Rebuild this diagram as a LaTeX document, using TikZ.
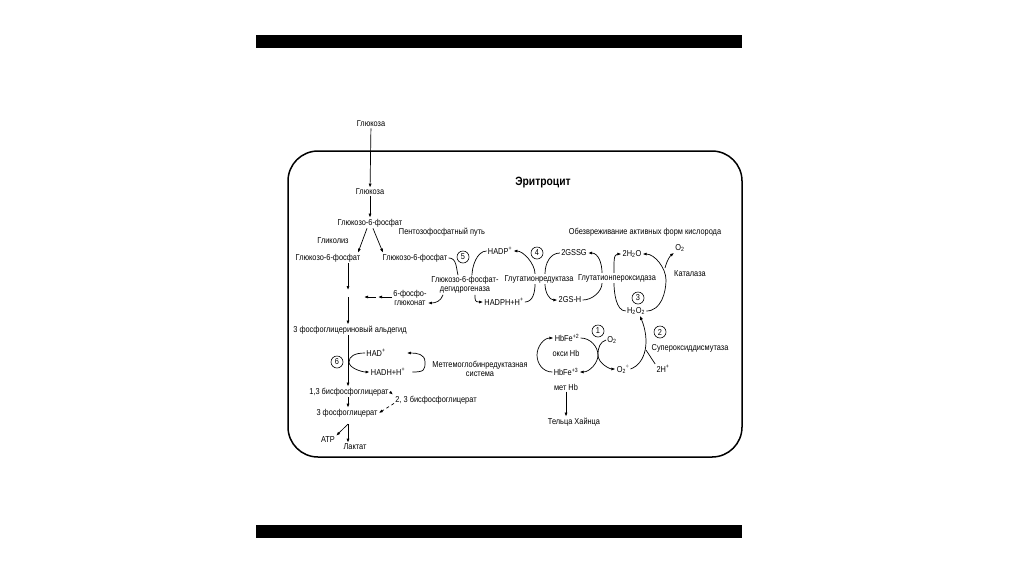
\documentclass[tikz,border=0pt]{standalone}
\usepackage{fontspec}
\setmainfont{Liberation Sans}[FakeStretch=0.86]
\usetikzlibrary{arrows.meta}

\begin{document}
\begin{tikzpicture}[x=1pt,y=-1pt,>={Latex[length=4pt,width=3pt]},line width=0.7pt,
  every node/.style={font=\fontsize{8.6}{10}\selectfont,inner sep=1pt,align=center},
  cnum/.style={circle,draw,line width=0.6pt,inner sep=0pt,minimum size=12pt}]
\useasboundingbox (0,0) rectangle (1024,574);
\fill (256,35) rectangle (742,48);
\fill (256,525) rectangle (742,538);
\draw[line width=1.5pt,rounded corners=30pt] (288,151) rectangle (742,457);
\node[font=\bfseries\fontsize{12}{14}\selectfont] (ery) at (543,183) {Эритроцит};
\node (ros) at (645,232) {Обезвреживание активных форм кислорода};
\node (ppp) at (442,232) {Пентозофосфатный путь};
\node (glc0) at (371,124) {Глюкоза};
\node (glc) at (370,192) {Глюкоза};
\node (g6p) at (370,223) {Глюкозо-6-фосфат};
\node (glyc) at (333,241) {Гликолиз};
\node (g6pl) at (328,258) {Глюкозо-6-фосфат};
\node (g6pr) at (415,258) {Глюкозо-6-фосфат};
\node[cnum] (c5) at (463,257) {5};
\node (g6pd) at (465,285) {Глюкозо-6-фосфат-\\[-1pt]дегидрогеназа};
\node (pgl) at (410,298) {6-фосфо-\\[-1pt]глюконат};
\node (gap) at (350,330) {3 фосфоглицериновый альдегид};
\node (nadp) at (500,251) {HADP\textsuperscript{+}};
\node (nadph) at (504,302) {HADPH+H\textsuperscript{+}};
\node[cnum] (c4) at (537,253) {4};
\node (gr) at (539,279) {Глутатионредуктаза};
\node (gssg) at (574,253) {2GSSG};
\node (gsh) at (570,300) {2GS-H};
\node (gpx) at (617,278) {Глутатионпероксидаза};
\node (h2o) at (632,254) {2H\textsubscript{2}O};
\node (o2c) at (680,248) {O\textsubscript{2}};
\node (cat) at (690,274) {Каталаза};
\node[cnum] (c3) at (638,298) {3};
\node (h2o2) at (636,311) {H\textsubscript{2}O\textsubscript{2}};
\node[cnum] (c2) at (660,332) {2};
\node (sod) at (690,348) {Супероксиддисмутаза};
\node (hp) at (663,369) {2H\textsuperscript{+}};
\node (sup) at (623,369) {O\textsubscript{2}\textsuperscript{÷}};
\node (o2) at (612,340) {O\textsubscript{2}};
\node[cnum] (c1) at (598,331) {1};
\node (hb2) at (567,338) {HbFe\textsuperscript{+2}};
\node (oxy) at (566,353) {окси Hb};
\node (hb3) at (566,372) {HbFe\textsuperscript{+3}};
\node (met) at (566,387) {мет Hb};
\node (heinz) at (574,422) {Тельца Хайнца};
\node[cnum] (c6) at (337,362) {6};
\node (nad) at (376,353) {HAD\textsuperscript{+}};
\node (nadh) at (388,372) {HADH+H\textsuperscript{+}};
\node (mhr) at (480,369) {Метгемоглобинредуктазная\\[-1pt]система};
\node (bpg13) at (349,392) {1,3 бисфосфоглицерат};
\node (bpg23) at (436,400) {2, 3 бисфосфоглицерат};
\node (pg3) at (347,413) {3 фосфоглицерат};
\node (atp) at (328,440) {ATP};
\node (lac) at (355,447) {Лактат};
\coordinate (gl) at (348,294);
\coordinate (pa) at (378,297);
\coordinate (ap) at (348,424);
\coordinate (cc) at (666,280);
\coordinate (cb) at (665,268);
\coordinate (sb) at (646,350);
\coordinate (xc) at (598,355);
\coordinate (hl) at (537,355);
\coordinate (hc) at (349,362);
\coordinate (hr) at (425,362);
\draw[->] (glc0) -- (glc);
\draw[->] (glc) -- (g6p);
\draw[->] ([xshift=-3pt]g6p.south) -- ([xshift=30pt]g6pl.north);
\draw[->] ([xshift=3pt]g6p.south) -- ([xshift=-32pt]g6pr.north);
\draw[->] (g6pl.south -| gl) -- ([yshift=4pt]gl);
\draw[->] ([yshift=-3pt]gl) -- (gap.north -| gl);
\draw[->] (pgl.west |- pa) -- (pa);
\draw[->] ([xshift=-2pt]pa) -- ([xshift=-14pt]pa);
\draw (g6pr.east) .. controls +(8,0) and +(-2,-8) .. ([xshift=-7pt]g6pd.north);
\draw[->] ([xshift=-22pt]g6pd.south) .. controls +(-2,6) and +(8,0) .. ([yshift=-5pt]pgl.east);
\draw (nadp.west) .. controls +(-10,0) and +(0,-8) .. ([xshift=7pt]g6pd.north);
\draw[->] ([xshift=10pt]g6pd.south) .. controls +(0,6) and +(-8,0) .. (nadph.west);
\draw (nadph.east) .. controls +(8,0) and +(0,8) .. ([xshift=-4pt]gr.south);
\draw[->] ([xshift=-4pt]gr.north) .. controls +(0,-10) and +(10,0) .. (nadp.east);
\draw (gssg.west) .. controls +(-10,0) and +(0,-10) .. ([xshift=6pt]gr.north);
\draw[->] ([xshift=6pt]gr.south) .. controls +(0,8) and +(-8,0) .. (gsh.west);
\draw (gsh.east) .. controls +(10,0) and +(0,8) .. ([xshift=-15pt]gpx.south);
\draw[->] ([xshift=-15pt]gpx.north) .. controls +(0,-10) and +(10,0) .. (gssg.east);
\draw (h2o2.west) .. controls +(-10,0) and +(0,8) .. ([xshift=-3pt]gpx.south);
\draw[->] ([xshift=-3pt]gpx.north) .. controls +(0,-10) and +(-8,0) .. (h2o.west);
\draw[->] (h2o2.east) .. controls +(15,0) and +(0,12) .. (cc) .. controls +(0,-12) and +(12,0) .. (h2o.east);
\draw[->] (cb) .. controls +(2,-8) and +(-4,3) .. (o2c.south west);
\draw[->] (sup.east) .. controls +(16,-6) and +(10,24) .. ([xshift=4pt]h2o2.south);
\draw (sb) -- (hp.north west);
\draw[->] (hb2.east) .. controls +(10,0) and +(0,-8) .. (xc) .. controls +(0,8) and +(10,0) .. (hb3.east);
\draw[->] (o2.west) .. controls +(-6,2) and +(0,-8) .. (xc) .. controls +(0,8) and +(-6,0) .. (sup.west);
\draw[->] (hb3.west) .. controls +(-10,0) and +(0,8) .. (hl) .. controls +(0,-8) and +(-10,0) .. (hb2.west);
\draw[->] (met) -- (met |- heinz.north);
\draw[->] (nad.west) .. controls +(-10,0) and +(0,-6) .. (hc) .. controls +(0,6) and +(-8,0) .. (nadh.west);
\draw[->] ([xshift=6pt]nadh.east) .. controls +(12,0) and +(0,8) .. (hr) .. controls +(0,-8) and +(10,0) .. ([xshift=20pt]nad.east);
\draw[->] (gap.south -| gl) -- (bpg13.north -| gl);
\draw[->] (bpg13.south -| gl) -- (pg3.north -| gl);
\draw[->,dashed] (bpg13.east) -- ([xshift=-1pt]bpg23.north west);
\draw[->,dashed] ([yshift=2pt]bpg23.south west) -- (pg3.east);
\draw[->] (ap) -- (atp.north east);
\draw[->] (ap) -- (lac.north -| ap);
\end{tikzpicture}
\end{document}
